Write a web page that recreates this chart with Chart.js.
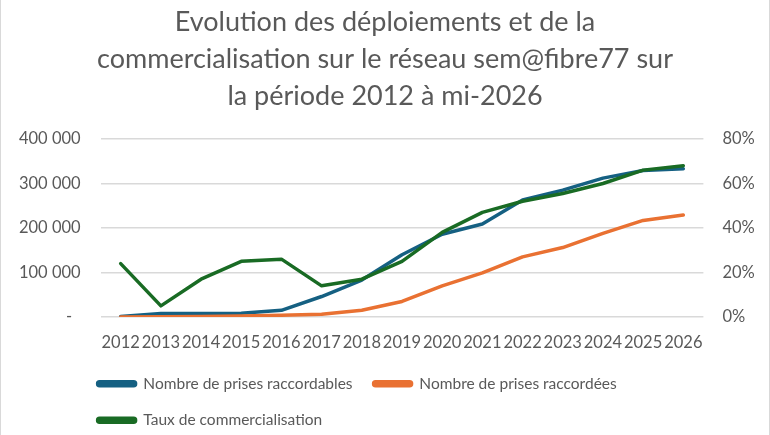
<!DOCTYPE html>
<html>
<head>
<meta charset="utf-8">
<script src="https://cdn.jsdelivr.net/npm/chart.js@4"></script>
<style>
  html, body { margin: 0; padding: 0; background: #fff; }
  #wrap {
    width: 770px; height: 435px; box-sizing: border-box;
    border-left: 1px solid #d9d9d9; border-right: 1px solid #d9d9d9;
  }
</style>
</head>
<body>
<div id="wrap"><canvas id="myChart" width="768" height="435"></canvas></div>
<script>
const years = ['2012', '2013', '2014', '2015', '2016', '2017', '2018', '2019', '2020', '2021', '2022', '2023', '2024', '2025', '2026'];
const raccordables = [1000, 8000, 8000, 8500, 15000, 46000, 83000, 140000, 186000, 209000, 263000, 285000, 312000, 329000, 333000];
const raccordees = [200, 400, 1400, 2100, 4000, 6000, 15000, 35000, 70000, 99000, 135000, 156000, 188000, 217000, 229000];
const taux = [0.24, 0.05, 0.17, 0.25, 0.26, 0.14, 0.17, 0.25, 0.38, 0.47, 0.52, 0.555, 0.60, 0.66, 0.68];
const leftTicks = [0, 100000, 200000, 300000, 400000];
const rightTicks = [0, 0.2, 0.4, 0.6, 0.8];

const grey = '#595959';
const font = 'Lato';
const legendPad = 21;

Chart.defaults.font.family = font;
Chart.defaults.color = grey;

// excel puts the legend rows flush with the plot's left edge
const legendShift = {
    id: 'legendShift',
    afterLayout(chart) {
        const lg = chart.legend;
        const dx = (chart.chartArea.left - 3 - legendPad) - lg.left;
        lg.left += dx;
        lg.right += dx;
    }
};

const ctx = document.getElementById('myChart');

const myChart = new Chart(ctx, {
    type: 'line',
    data: {
        labels: years,
        datasets: [{
            label: 'Nombre de prises raccordables',
            data: raccordables,
            borderColor: '#156082',
            backgroundColor: '#156082',
            yAxisID: 'y',
            order: 3,
        }, {
            label: 'Nombre de prises raccordées',
            data: raccordees,
            borderColor: '#E97132',
            backgroundColor: '#E97132',
            yAxisID: 'y',
            order: 2,
        }, {
            label: 'Taux de commercialisation',
            data: taux,
            borderColor: '#196B24',
            backgroundColor: '#196B24',
            yAxisID: 'y1',
            order: 1,
        }]
    },
    plugins: [legendShift],
    options: {
        responsive: false,
        animation: false,
        devicePixelRatio: 1,
        elements: {
            point: { radius: 0 },
            line: { borderWidth: 3.5, tension: 0, borderCapStyle: 'round', borderJoinStyle: 'round' }
        },
        layout: { padding: { left: 0, right: 0, top: 0, bottom: -3 } },
        plugins: {
            title: {
                display: true,
                text: ['Evolution des déploiements et de la', 'commercialisation sur le réseau sem@fibre77 sur', 'la période 2012 à mi-2026'],
                color: grey,
                font: { family: font, size: 27, weight: 'normal', lineHeight: 1.37 },
                padding: { top: 3.5, bottom: 24.5 }
            },
            legend: {
                position: 'bottom',
                align: 'start',
                fullSize: false,
                labels: {
                    boxWidth: 38,
                    boxHeight: 4,
                    useBorderRadius: true,
                    borderRadius: 2,
                    padding: legendPad,
                    color: grey,
                    font: { family: font, size: 15.5 },
                    sort: (a, b) => a.datasetIndex - b.datasetIndex
                }
            },
            tooltip: { enabled: false }
        },
        scales: {
            x: {
                offset: true,
                afterFit: (axis) => { axis.height = 38; },
                grid: { display: false, drawTicks: false },
                border: { display: false },
                ticks: {
                    autoSkip: false, maxRotation: 0, minRotation: 0,
                    padding: 16,
                    color: grey,
                    font: { family: font, size: 16.5 }
                }
            },
            y: {
                position: 'left',
                min: 0,
                max: 400000,
                afterBuildTicks: (axis) => { axis.ticks = leftTicks.map(v => ({ value: v })); },
                afterFit: (axis) => { axis.width = 99.6; },
                grid: { color: '#d9d9d9', lineWidth: 1.5, drawTicks: false },
                border: { display: false },
                ticks: {
                    padding: 20,
                    color: grey,
                    font: { family: font, size: 16.5 },
                    callback: (v) => v === 0 ? '-  ' : String(v).replace(/\B(?=(\d{3})+(?!\d))/g, ' ')
                }
            },
            y1: {
                position: 'right',
                min: 0,
                max: 0.8,
                afterBuildTicks: (axis) => { axis.ticks = rightTicks.map(v => ({ value: v })); },
                afterFit: (axis) => { axis.width = 65.6; },
                grid: { display: false, drawTicks: false },
                border: { display: false },
                ticks: {
                    padding: 19,
                    color: grey,
                    font: { family: font, size: 16.5 },
                    callback: (v) => Math.round(v * 100) + '%'
                }
            }
        }
    }
});
</script>
</body>
</html>
